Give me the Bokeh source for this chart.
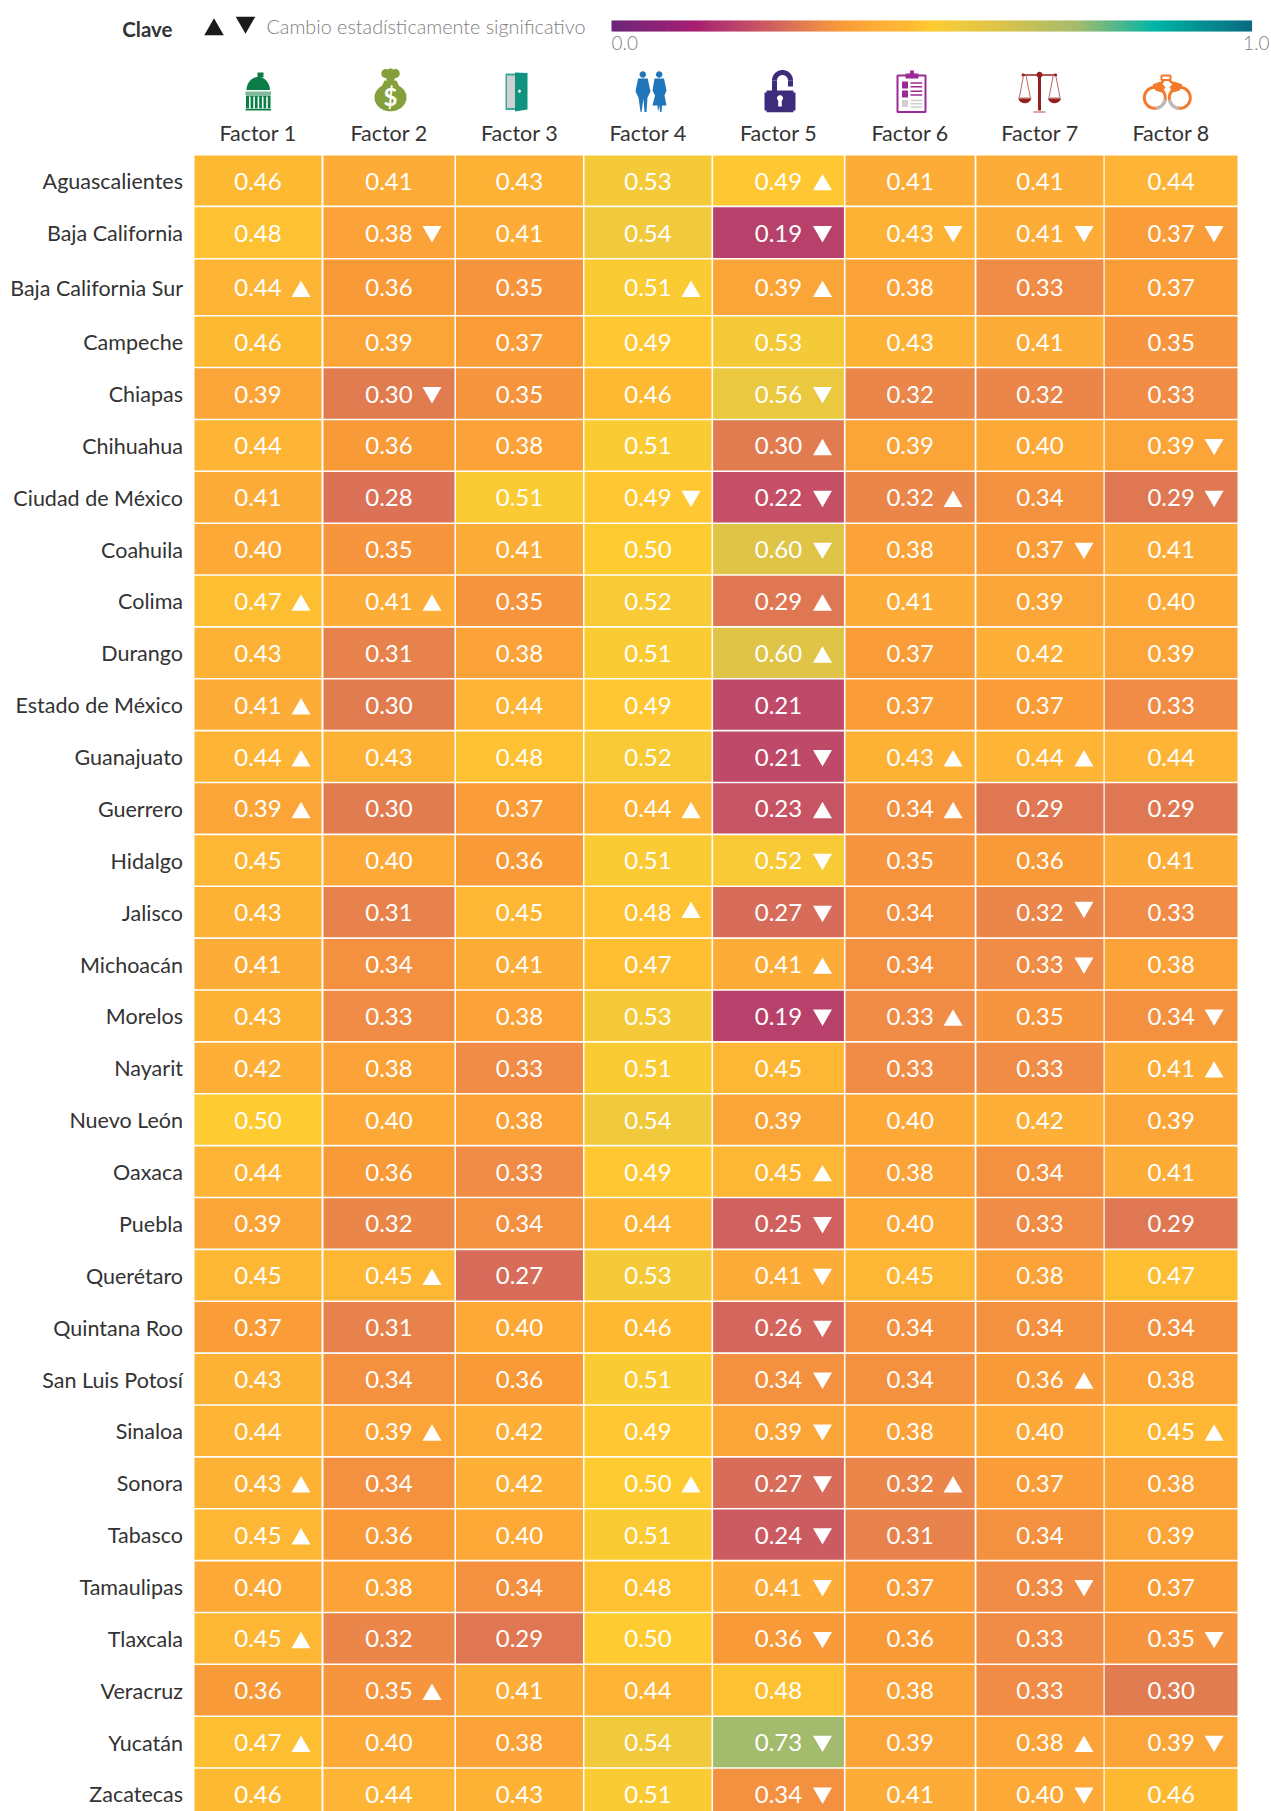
import numpy as np
from bokeh.plotting import figure, ColumnDataSource
from bokeh.models import Range1d, LinearColorMapper
from bokeh.core.properties import value
from bokeh.transform import transform
from bokeh.embed import file_html
from bokeh.resources import INLINE

# ---------- data ----------
states = ["Aguascalientes", "Baja California", "Baja California Sur", "Campeche", "Chiapas", "Chihuahua",
          "Ciudad de México", "Coahuila", "Colima", "Durango", "Estado de México", "Guanajuato", "Guerrero",
          "Hidalgo", "Jalisco", "Michoacán", "Morelos", "Nayarit", "Nuevo León", "Oaxaca", "Puebla", "Querétaro",
          "Quintana Roo", "San Luis Potosí", "Sinaloa", "Sonora", "Tabasco", "Tamaulipas", "Tlaxcala", "Veracruz",
          "Yucatán", "Zacatecas"]
factors = ["Factor 1", "Factor 2", "Factor 3", "Factor 4", "Factor 5", "Factor 6", "Factor 7", "Factor 8"]

factor1 = [.46, .48, .44, .46, .39, .44, .41, .40, .47, .43, .41, .44, .39, .45, .43, .41, .43, .42, .50, .44, .39, .45, .37, .43, .44, .43, .45, .40, .45, .36, .47, .46]
factor2 = [.41, .38, .36, .39, .30, .36, .28, .35, .41, .31, .30, .43, .30, .40, .31, .34, .33, .38, .40, .36, .32, .45, .31, .34, .39, .34, .36, .38, .32, .35, .40, .44]
factor3 = [.43, .41, .35, .37, .35, .38, .51, .41, .35, .38, .44, .48, .37, .36, .45, .41, .38, .33, .38, .33, .34, .27, .40, .36, .42, .42, .40, .34, .29, .41, .38, .43]
factor4 = [.53, .54, .51, .49, .46, .51, .49, .50, .52, .51, .49, .52, .44, .51, .48, .47, .53, .51, .54, .49, .44, .53, .46, .51, .49, .50, .51, .48, .50, .44, .54, .51]
factor5 = [.49, .19, .39, .53, .56, .30, .22, .60, .29, .60, .21, .21, .23, .52, .27, .41, .19, .45, .39, .45, .25, .41, .26, .34, .39, .27, .24, .41, .36, .48, .73, .34]
factor6 = [.41, .43, .38, .43, .32, .39, .32, .38, .41, .37, .37, .43, .34, .35, .34, .34, .33, .33, .40, .38, .40, .45, .34, .34, .38, .32, .31, .37, .36, .38, .39, .41]
factor7 = [.41, .41, .33, .41, .32, .40, .34, .37, .39, .42, .37, .44, .29, .36, .32, .33, .35, .33, .42, .34, .33, .38, .34, .36, .40, .37, .34, .33, .33, .33, .38, .40]
factor8 = [.44, .37, .37, .35, .33, .39, .29, .41, .40, .39, .33, .44, .29, .41, .33, .38, .34, .41, .39, .41, .29, .47, .34, .38, .45, .38, .39, .37, .35, .30, .39, .46]
all_factors = [factor1, factor2, factor3, factor4, factor5, factor6, factor7, factor8]

# significance: 1 = up, -1 = down (per factor: state index -> direction)
sig1 = {2: 1, 8: 1, 10: 1, 11: 1, 12: 1, 25: 1, 26: 1, 28: 1, 30: 1}
sig2 = {1: -1, 4: -1, 8: 1, 21: 1, 24: 1, 29: 1}
sig3 = {}
sig4 = {2: 1, 6: -1, 12: 1, 14: 1, 25: 1}
sig5 = {0: 1, 1: -1, 2: 1, 4: -1, 5: 1, 6: -1, 7: -1, 8: 1, 9: 1, 11: -1, 12: 1, 13: -1, 14: -1, 15: 1, 16: -1,
        19: 1, 20: -1, 21: -1, 22: -1, 23: -1, 24: -1, 25: -1, 26: -1, 27: -1, 28: -1, 30: -1, 31: -1}
sig6 = {1: -1, 6: 1, 11: 1, 12: 1, 16: 1, 25: 1}
sig7 = {1: -1, 7: -1, 11: 1, 14: -1, 15: -1, 23: 1, 27: -1, 30: 1, 31: -1}
sig8 = {1: -1, 5: -1, 6: -1, 16: -1, 17: 1, 24: 1, 28: -1, 30: -1}
all_sig = [sig1, sig2, sig3, sig4, sig5, sig6, sig7, sig8]

# colour scale
scale_pos = [0, .13, .19, .21, .27, .30, .33, .36, .41, .46, .50, .54, .60, .73, .85, 1]
scale_col = ["#6d2678", "#a81e72", "#b9426b", "#c04a68", "#d86c5a", "#e27d50", "#f08c45", "#f99a38", "#fdad38",
             "#feb933", "#ffcb30", "#f0ca3c", "#dfc447", "#a3bb6d", "#00b5a5", "#0a6a80"]

# ---------- layout ----------
W, H = 1271, 1811
col_left = [194, 323, 455.5, 584, 712.6, 845, 975.9, 1104.2]
col_right = [321, 454, 582.5, 711, 843.4, 974.2, 1103, 1237]
tri_dx = [43, 43, 43, 43, 44, 43, 44, 43]
row_pitch = [51.87] * 32
row_pitch[0] = 51.7
row_pitch[1] = 52.3
row_pitch[2] = 57
row_top = 155 + np.concatenate([[0], np.cumsum(row_pitch)[:-1]])
row_bot = row_top + np.array(row_pitch) - 1.6
row_mid = (row_top + row_bot) / 2

def hex2rgb(c):
    return np.array([int(c[i:i + 2], 16) for i in (1, 3, 5)], float)

rgb = np.array([hex2rgb(c) for c in scale_col])
grid = np.linspace(0, 1, 256)
palette = ["#%02x%02x%02x" % tuple(int(round(np.interp(g, scale_pos, rgb[:, k]))) for k in range(3)) for g in grid]
mapper = LinearColorMapper(palette=palette, low=0, high=1)

p = figure(width=W, height=H, x_range=Range1d(0, W), y_range=Range1d(H, 0),
           output_backend="svg", toolbar_location=None, min_border=0, outline_line_color=None,
           background_fill_color="white", border_fill_color="white")
p.axis.visible = False
p.grid.visible = False

LATO = value("Lato")
cells = dict(left=[], right=[], top=[], bottom=[], v=[], x=[], y=[], label=[])
up = dict(x=[], y=[])
down = dict(x=[], y=[])
for c, vals in enumerate(all_factors):
    cx = (col_left[c] + col_right[c]) / 2
    for r, v in enumerate(vals):
        cells["left"].append(col_left[c]); cells["right"].append(col_right[c])
        cells["top"].append(row_top[r]); cells["bottom"].append(row_bot[r])
        cells["v"].append(v); cells["x"].append(cx); cells["y"].append(row_mid[r] + .5)
        cells["label"].append("%.2f" % v)
        s = all_sig[c].get(r)
        raised = 4 if (r == 14 and c in (3, 6)) else 0
        if s == 1:
            up["x"].append(cx + tri_dx[c]); up["y"].append(row_mid[r] + 4.3 - raised)
        elif s == -1:
            down["x"].append(cx + tri_dx[c]); down["y"].append(row_mid[r] - 1 - raised)

src = ColumnDataSource(cells)
p.quad(left="left", right="right", top="top", bottom="bottom", source=src,
       fill_color=transform("v", mapper), line_color=None)
p.text(x="x", y="y", text="label", source=src, text_color="white", text_font=LATO, text_font_size="24px",
       text_align="center", text_baseline="middle")
p.scatter(x="x", y="y", source=ColumnDataSource(up), marker="triangle", size=19, fill_color="white", line_color=None)
p.scatter(x="x", y="y", source=ColumnDataSource(down), marker="inverted_triangle", size=19, fill_color="white", line_color=None)

# row and column labels
p.text(x=[182.5] * 32, y=list(row_mid + .5), text=states, text_color="#333333", text_font=LATO,
       text_font_size="21.5px", text_align="right", text_baseline="middle")
p.text(x=[(a + b) / 2 for a, b in zip(col_left, col_right)], y=[132] * 8, text=factors, text_color="#333333",
       text_font=LATO, text_font_size="21.5px", text_align="center", text_baseline="middle")

# key
p.text(x=[172], y=[28], text=["Clave"], text_color="#333333", text_font=LATO, text_font_style="bold",
       text_font_size="20.5px", text_align="right", text_baseline="middle")
p.scatter(x=[213.5], y=[29], marker="triangle", size=19.5, fill_color="#1a1a1a", line_color=None)
p.scatter(x=[245], y=[22], marker="inverted_triangle", size=19.5, fill_color="#1a1a1a", line_color=None)
p.text(x=[266], y=[25.5], text=["Cambio estadísticamente significativo"], text_color="#808080",
       text_font=value("Lato Light, Lato"), text_font_size="19.8px", text_align="left", text_baseline="middle")
p.text(x=[611], y=[42], text=["0.0"], text_color="#808080", text_font=value("Lato Light, Lato"),
       text_font_size="19px", text_align="left", text_baseline="middle")
p.text(x=[1269], y=[42], text=["1.0"], text_color="#808080", text_font=value("Lato Light, Lato"),
       text_font_size="19px", text_align="right", text_baseline="middle")
bar_l, bar_r = 611, 1251
edges = np.linspace(bar_l, bar_r, 257)
bar = ColumnDataSource(dict(left=edges[:-1], right=edges[1:] + .6, v=grid))
p.quad(left="left", right="right", top=20, bottom=31, source=bar, fill_color=transform("v", mapper), line_color=None)

# ---------- icons (page-pixel shapes) ----------
def poly(xs, ys, color):
    p.patch(xs, ys, fill_color=color, line_color=None)

def box(l, r, t, b, color):
    p.quad(left=l, right=r, top=t, bottom=b, fill_color=color, line_color=None)

def ell(cx, cy, rx, ry, color, a0=0, a1=360):
    t = np.radians(np.linspace(a0, a1, 60))
    poly(cx + rx * np.cos(t), cy + ry * np.sin(t), color)

def arc(cx, cy, r, a0, a1, color, w):
    t = np.radians(np.linspace(a0, a1, 40))
    p.line(cx + r * np.cos(t), cy + r * np.sin(t), line_color=color, line_width=w)

def seg(xs, ys, color, w):
    p.line(xs, ys, line_color=color, line_width=w)

# Factor 1: capitol
g = "#0a7d44"
ell(257.7, 89.5, 11.7, 13, g, 180, 360)
box(257, 263, 72, 77, g)
box(245, 270.5, 91, 94.5, "#7fb89a")
box(245.5, 270, 95, 108, g)
for x in (249.3, 253.6, 257.9, 262.2, 266.5):
    box(x - .8, x + .8, 96, 108, "white")
box(245, 270.5, 108.6, 110, g)

# Factor 2: money bag
o = "#84a03c"
ell(390, 97, 16, 13.8, o)
poly([384, 396, 404, 376], [80, 80, 97, 97], o)
ell(385, 73, 4.2, 4.5, o)
ell(395, 73, 4.2, 4.5, o)
ell(390, 72, 4, 4, o)
poly([384, 396, 393, 387], [74, 74, 81, 81], o)
p.text(x=[390], y=[96], text=["$"], text_color="white", text_font=LATO, text_font_style="bold",
       text_font_size="24px", text_align="center", text_baseline="middle")

# Factor 3: door
box(505, 519, 73, 109.5, "#3aa899")
box(506.5, 515, 75, 107.5, "#d0d0d0")
poly([514.5, 527, 527, 514.5], [72, 72.5, 109, 111], "#12937f")
ell(519, 90.7, 1.3, 1.6, "white")

# Factor 4: people
b = "#2176ba"
ell(642.3, 74, 3.2, 3.2, b)
ell(658.7, 74, 3.2, 3.2, b)
poly([637.5, 647.2, 650, 647, 646, 644, 643, 641, 640, 638, 635],
     [78, 78, 91, 97, 111.5, 111.5, 98, 111.5, 111.5, 97, 91], b)
poly([654, 663.5, 666, 664, 666, 661.5, 661, 659.5, 659, 657.5, 657, 652, 654.5, 652],
     [78, 78, 90, 95, 105, 105, 111.5, 111.5, 105, 111.5, 105, 105, 95, 90], b)

# Factor 5: open padlock
v5 = "#3f2b7c"
box(764, 795, 92, 110, v5)
box(766, 793, 90, 111.7, v5)
seg([774, 774], [91, 80], v5, 5)
arc(782, 80, 8, 180, 360, v5, 5)
seg([790, 790], [80, 86], v5, 5)
ell(779.5, 97.7, 3, 3, "white")
box(777.7, 781.3, 98, 106, "white")

# Factor 6: clipboard
m = "#9b2a96"
p.quad(left=897, right=925, top=75, bottom=111.5, fill_color="white", line_color=m, line_width=2)
box(905, 918, 73, 78, m)
box(909.5, 913.5, 70, 74, m)
box(901.5, 907.5, 81, 88, m)
box(901.5, 907.5, 90, 97, m)
box(901.5, 907.5, 99.5, 106.5, "#d0d0d0")
for y in (82.5, 86.2, 90.7, 94.5):
    seg([910, 921.7], [y, y], m, 1.4)
for y in (100, 103.3, 106.5):
    seg([910, 921.7], [y, y], "#d0d0d0", 1.4)

# Factor 7: scales
r7 = "#96201f"
seg([1039, 1039], [74, 110], r7, 3)
ell(1039, 74.3, 3, 3, r7)
seg([1022.7, 1055], [74.5, 74.5], r7, 1.5)
ell(1022.7, 74.5, 1.6, 1.6, r7)
ell(1055, 74.5, 1.6, 1.6, r7)
seg([1033, 1045], [111.5, 111.5], "#b05050", 1.2)
for cx_ in (1024.3, 1054):
    seg([cx_ - 5.5, cx_ - 1.3], [97, 75], "#b86a6a", 1)
    seg([cx_ + 5.5, cx_ + 1.3], [97, 75], "#b86a6a", 1)
    ell(cx_, 96.7, 6.6, 6, r7, 0, 180)
    seg([cx_ - 6.6, cx_ + 6.6], [97.4, 97.4], "white", .9)

# Factor 8: handcuffs
c8 = "#f47a2a"
g8 = "#bbbbbb"
for cx_ in (1154.3, 1179.3):
    arc(cx_, 97.3, 10.5, 0, 360, c8, 3)
arc(1154.3, 97.3, 10.5, 10, 85, g8, 3.2)
arc(1179.3, 97.3, 10.5, 95, 170, g8, 3.2)
poly([1152, 1160, 1165, 1161, 1155], [84, 81, 87, 92, 90], c8)
poly([1182, 1174, 1169, 1173, 1179], [84, 81, 87, 92, 90], c8)
p.quad(left=1161, right=1170, top=75, bottom=79.5, fill_color="white", line_color=c8, line_width=2)
seg([1163, 1160], [80, 84], c8, 2.5)
seg([1169, 1174], [80, 84], c8, 2.5)

open("out.html", "w").write(file_html(p, INLINE))
